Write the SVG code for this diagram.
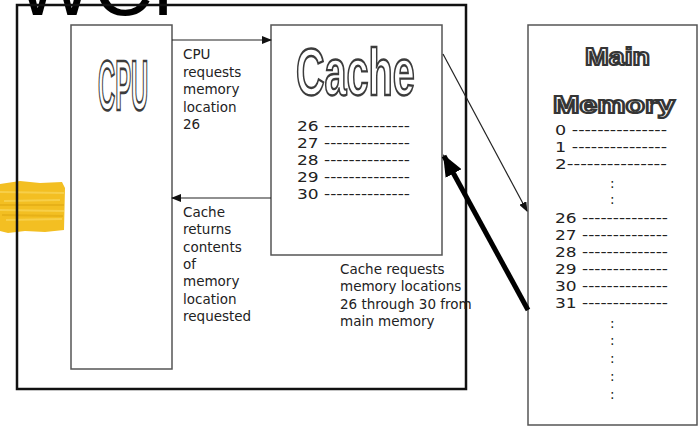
<svg xmlns="http://www.w3.org/2000/svg" width="700" height="426" viewBox="0 0 700 426">
<style>
.box{fill:#fff;stroke:#555;stroke-width:1.5}
.t{font-family:"DejaVu Sans",Verdana,sans-serif;font-size:13.5px;fill:#222}
.word{font-family:"Liberation Sans",Arial,sans-serif;font-weight:bold;fill:#fff;stroke:#3a3a3a;stroke-width:2;vector-effect:non-scaling-stroke;opacity:0.99}
.word2{font-family:"Liberation Sans",Arial,sans-serif;font-weight:bold;fill:#fff;stroke:#333;stroke-width:2;opacity:0.99}
.thin{stroke:#222;stroke-width:1.2;fill:none}
</style>
<defs>
<marker id="ah" markerWidth="10" markerHeight="8" refX="9" refY="4" orient="auto" markerUnits="userSpaceOnUse">
<path d="M0,0 L10,4 L0,8 Z" fill="#111"/>
</marker>
<marker id="ahbig" markerWidth="22" markerHeight="18" refX="20" refY="9" orient="auto" markerUnits="userSpaceOnUse">
<path d="M0,0 L22,9 L0,18 Z" fill="#000"/>
</marker>
</defs>
<rect width="700" height="426" fill="#fff"/>
<g id="title">
<text x="16" y="15" style="font-family:'Liberation Sans',Arial,sans-serif;font-size:82px;fill:#000">WCF</text>
</g>
<g id="blob">
<path d="M0,184 L20,181 L40,183 L62,182 L65,188 L64,230 L45,232 L25,231 L8,233 L0,231 Z" fill="#f3bf22"/>
<path d="M0,192 L64,193 M4,201 L60,200 M0,210 L64,211 M6,220 L62,219" stroke="#f8d55a" stroke-width="2" fill="none" opacity="0.7"/>
<path d="M0,205 L64,205 M2,215 L63,216" stroke="#e0a812" stroke-width="2" fill="none" opacity="0.6"/>
</g>
<g id="outer">
<rect x="17" y="5" width="449" height="384" fill="none" stroke="#111" stroke-width="2.5"/>
</g>
<g id="cpu">
<rect class="box" x="71" y="25" width="101" height="344"/>
<text class="word" transform="translate(98,110) scale(0.34,1)" font-size="70">CPU</text>
</g>
<g id="cache">
<rect class="box" x="271" y="25" width="171" height="230"/>
<text class="word" transform="translate(296,95) scale(0.6,1)" font-size="66">Cache</text>
<text class="t" x="297" y="131" textLength="113" lengthAdjust="spacingAndGlyphs">26 --------------</text>
<text class="t" x="297" y="148" textLength="113" lengthAdjust="spacingAndGlyphs">27 --------------</text>
<text class="t" x="297" y="165" textLength="113" lengthAdjust="spacingAndGlyphs">28 --------------</text>
<text class="t" x="297" y="182" textLength="113" lengthAdjust="spacingAndGlyphs">29 --------------</text>
<text class="t" x="297" y="199" textLength="113" lengthAdjust="spacingAndGlyphs">30 --------------</text>
</g>
<g id="memory">
<rect class="box" x="528" y="25" width="169" height="400"/>
<text class="word2" x="585" y="65" font-size="24" textLength="65" lengthAdjust="spacingAndGlyphs">Main</text>
<text class="word2" x="553" y="113" font-size="23" textLength="122" lengthAdjust="spacingAndGlyphs">Memory</text>
<text class="t" x="555" y="135" textLength="112" lengthAdjust="spacingAndGlyphs">0 ---------------</text>
<text class="t" x="555" y="152" textLength="112" lengthAdjust="spacingAndGlyphs">1 ---------------</text>
<text class="t" x="555" y="169" textLength="112" lengthAdjust="spacingAndGlyphs">2---------------</text>
<text class="t" x="610" y="188">:</text>
<text class="t" x="610" y="204">:</text>
<text class="t" x="555" y="223" textLength="113" lengthAdjust="spacingAndGlyphs">26 --------------</text>
<text class="t" x="555" y="240" textLength="113" lengthAdjust="spacingAndGlyphs">27 --------------</text>
<text class="t" x="555" y="257" textLength="113" lengthAdjust="spacingAndGlyphs">28 --------------</text>
<text class="t" x="555" y="274" textLength="113" lengthAdjust="spacingAndGlyphs">29 --------------</text>
<text class="t" x="555" y="291" textLength="113" lengthAdjust="spacingAndGlyphs">30 --------------</text>
<text class="t" x="555" y="308" textLength="113" lengthAdjust="spacingAndGlyphs">31 --------------</text>
<text class="t" x="610" y="328">:</text>
<text class="t" x="610" y="345">:</text>
<text class="t" x="610" y="363">:</text>
<text class="t" x="610" y="381">:</text>
<text class="t" x="610" y="399">:</text>
</g>
<g id="connectors">
<line class="thin" x1="172" y1="40" x2="271" y2="40" marker-end="url(#ah)"/>
<line class="thin" x1="271" y1="198" x2="172" y2="198" marker-end="url(#ah)"/>
<line class="thin" x1="443" y1="54" x2="527" y2="211" marker-end="url(#ah)"/>
<line x1="528" y1="310" x2="444" y2="156" stroke="#000" stroke-width="5" marker-end="url(#ahbig)"/>
</g>
<g id="labels">
<text class="t" x="183" y="59">CPU</text>
<text class="t" x="183" y="76.5">requests</text>
<text class="t" x="183" y="94">memory</text>
<text class="t" x="183" y="111.5">location</text>
<text class="t" x="183" y="129">26</text>
<text class="t" x="183" y="217">Cache</text>
<text class="t" x="183" y="234.3">returns</text>
<text class="t" x="183" y="251.6">contents</text>
<text class="t" x="183" y="269">of</text>
<text class="t" x="183" y="286.3">memory</text>
<text class="t" x="183" y="303.6">location</text>
<text class="t" x="183" y="321">requested</text>
<text class="t" x="340" y="274">Cache requests</text>
<text class="t" x="340" y="291.3">memory locations</text>
<text class="t" x="340" y="308.6">26 through 30 from</text>
<text class="t" x="340" y="326">main memory</text>
</g>
</svg>
